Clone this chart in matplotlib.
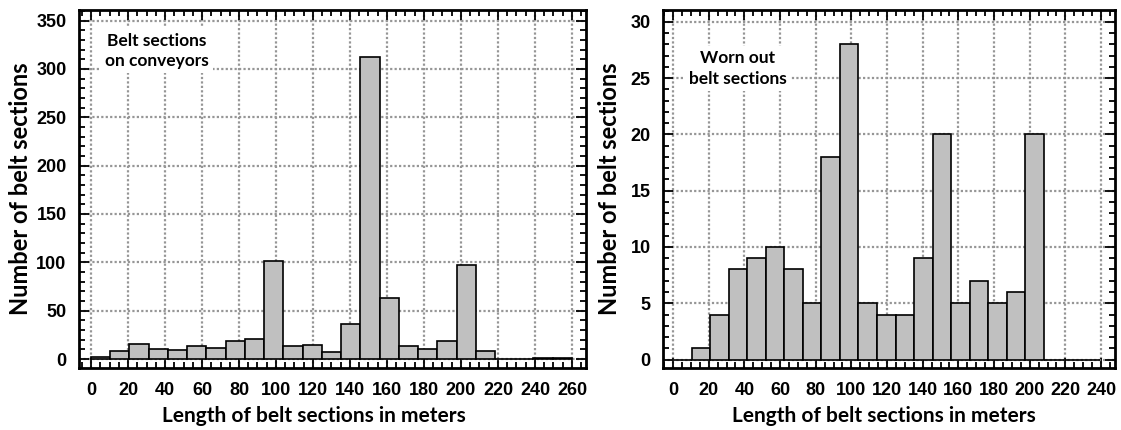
import matplotlib
matplotlib.use('Agg')
import matplotlib.pyplot as plt
import numpy as np
from matplotlib.ticker import MultipleLocator

# histogram bins (meters), same width in both panels
bin_width = 10.4
left_counts = [2, 8, 16, 10, 9, 13, 11, 19, 21, 101, 13, 14, 7, 36, 312,
               63, 13, 10, 19, 97, 8, 0, 0, 1, 1]
right_counts = [0, 1, 4, 8, 9, 10, 8, 5, 18, 28, 5, 4, 4, 9, 20,
                5, 7, 5, 6, 20, 0, 0, 0]
left_text = 'Belt sections\non conveyors'
right_text = 'Worn out\nbelt sections'
xlabel = 'Length of belt sections in meters'
ylabel = 'Number of belt sections'

label_font = ['Lato', 'DejaVu Sans']
plt.rcParams['font.family'] = ['Liberation Sans', 'DejaVu Sans']
plt.rcParams['font.weight'] = 'bold'

fig = plt.figure(figsize=(11.21, 4.30), dpi=100)
ax1 = fig.add_axes([79/1121, 1-368/430, 507/1121, 358/430])
ax2 = fig.add_axes([663/1121, 1-368/430, 452/1121, 358/430])


def draw(ax, counts, xmax_tick, xlim, ylim, ymaj, ymin_, text, txy, xlab_x, ylab_x):
    edges = np.arange(len(counts)) * bin_width
    ax.bar(edges, counts, width=bin_width, align='edge', color='#c0c0c0',
           edgecolor='black', linewidth=1.2, zorder=2)
    ax.set_xlim(*xlim)
    ax.set_ylim(*ylim)
    ax.set_xticks(np.arange(0, xmax_tick + 1, 20))
    ax.set_yticks(np.arange(0, ylim[1], ymaj))
    ax.xaxis.set_minor_locator(MultipleLocator(5))
    ax.yaxis.set_minor_locator(MultipleLocator(ymin_))
    ax.grid(True, which='major', color='#969696', linestyle=(0, (1, 1)),
            linewidth=1.6, zorder=0)
    ax.set_axisbelow(True)
    ax.tick_params(which='both', direction='in', top=True, right=True,
                   width=1.3, color='black', labelsize=13)
    ax.tick_params(which='major', length=7)
    ax.tick_params(which='minor', length=4)
    ax.tick_params(axis='x', pad=10)
    ax.tick_params(axis='y', pad=9)
    for sp in ax.spines.values():
        sp.set_linewidth(2)
        sp.set_zorder(5)
    ax.set_xlabel(xlabel, family=label_font, fontweight='bold', fontsize=15)
    ax.set_ylabel(ylabel, family=label_font, fontweight='bold', fontsize=17)
    ax.xaxis.set_label_coords(xlab_x, -0.105)
    ax.yaxis.set_label_coords(ylab_x, 0.5)
    ax.text(txy[0], txy[1], text, transform=ax.transAxes, ha='center',
            va='top', family=label_font, fontweight='bold', fontsize=12.5,
            linespacing=1.35, zorder=3,
            bbox=dict(facecolor='white', edgecolor='none', pad=3))


draw(ax1, left_counts, 260, (-6.5, 267.6), (-9.3, 361), 50, 10,
     left_text, (0.154, 0.937), 0.464, -0.092)
draw(ax2, right_counts, 240, (-5.6, 247.8), (-0.75, 31.05), 5, 1,
     right_text, (0.166, 0.888), 0.489, -0.092)

fig.savefig('out.png', dpi=100)
